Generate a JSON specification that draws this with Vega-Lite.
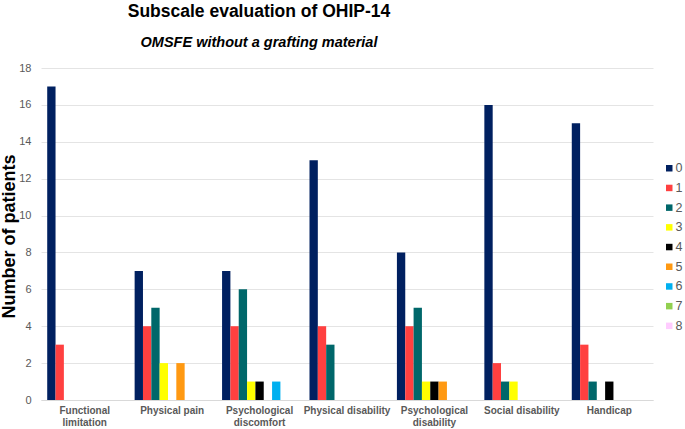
{
  "$schema": "https://vega.github.io/schema/vega-lite/v6.json",
  "width": 612,
  "height": 332,
  "autosize": {"type": "none"},
  "padding": {"left": 41, "top": 68, "right": 32, "bottom": 29},
  "background": "white",
  "title": {
    "text": "Subscale evaluation of OHIP-14",
    "subtitle": "OMSFE without a grafting material",
    "anchor": "middle",
    "frame": "group",
    "dx": -88,
    "offset": 13,
    "font": "Liberation Sans, Arial",
    "fontSize": 17.5,
    "fontWeight": "bold",
    "color": "black",
    "subtitleFont": "Liberation Sans, Arial",
    "subtitleFontSize": 14.5,
    "subtitleFontWeight": "bold",
    "subtitleFontStyle": "italic",
    "subtitleColor": "black",
    "subtitlePadding": 15
  },
  "data": {
    "values": [
      {"subscale": "Functional limitation", "score": "0", "patients": 17},
      {"subscale": "Functional limitation", "score": "1", "patients": 3},
      {"subscale": "Physical pain", "score": "0", "patients": 7},
      {"subscale": "Physical pain", "score": "1", "patients": 4},
      {"subscale": "Physical pain", "score": "2", "patients": 5},
      {"subscale": "Physical pain", "score": "3", "patients": 2},
      {"subscale": "Physical pain", "score": "5", "patients": 2},
      {"subscale": "Psychological discomfort", "score": "0", "patients": 7},
      {"subscale": "Psychological discomfort", "score": "1", "patients": 4},
      {"subscale": "Psychological discomfort", "score": "2", "patients": 6},
      {"subscale": "Psychological discomfort", "score": "3", "patients": 1},
      {"subscale": "Psychological discomfort", "score": "4", "patients": 1},
      {"subscale": "Psychological discomfort", "score": "6", "patients": 1},
      {"subscale": "Physical disability", "score": "0", "patients": 13},
      {"subscale": "Physical disability", "score": "1", "patients": 4},
      {"subscale": "Physical disability", "score": "2", "patients": 3},
      {"subscale": "Psychological disability", "score": "0", "patients": 8},
      {"subscale": "Psychological disability", "score": "1", "patients": 4},
      {"subscale": "Psychological disability", "score": "2", "patients": 5},
      {"subscale": "Psychological disability", "score": "3", "patients": 1},
      {"subscale": "Psychological disability", "score": "4", "patients": 1},
      {"subscale": "Psychological disability", "score": "5", "patients": 1},
      {"subscale": "Social disability", "score": "0", "patients": 16},
      {"subscale": "Social disability", "score": "1", "patients": 2},
      {"subscale": "Social disability", "score": "2", "patients": 1},
      {"subscale": "Social disability", "score": "3", "patients": 1},
      {"subscale": "Handicap", "score": "0", "patients": 15},
      {"subscale": "Handicap", "score": "1", "patients": 3},
      {"subscale": "Handicap", "score": "2", "patients": 1},
      {"subscale": "Handicap", "score": "4", "patients": 1}
    ]
  },
  "mark": {"type": "bar"},
  "encoding": {
    "x": {
      "field": "subscale",
      "type": "nominal",
      "sort": ["Functional limitation", "Physical pain", "Psychological discomfort", "Physical disability", "Psychological disability", "Social disability", "Handicap"],
      "scale": {"paddingInner": 0.142, "paddingOuter": 0.071},
      "axis": {
        "title": null,
        "labelAngle": 0,
        "labelFont": "Liberation Sans, Arial",
        "labelFontSize": 10,
        "labelFontWeight": "bold",
        "labelColor": "#595959",
        "labelPadding": 5,
        "labelLineHeight": 12,
        "labelExpr": "indexof(['Functional limitation','Psychological discomfort','Psychological disability'], datum.label) >= 0 ? split(datum.label, ' ') : datum.label",
        "ticks": false,
        "domainColor": "#d9d9d9",
        "domainWidth": 1,
        "grid": false
      }
    },
    "xOffset": {
      "field": "score",
      "type": "nominal",
      "scale": {"domain": ["0", "1", "2", "3", "4", "5", "6", "7", "8"], "paddingInner": 0, "paddingOuter": 0}
    },
    "y": {
      "field": "patients",
      "type": "quantitative",
      "scale": {"domain": [0, 18]},
      "axis": {
        "title": "Number of patients",
        "titleFont": "Liberation Sans, Arial",
        "titleFontSize": 18,
        "titleFontWeight": "bold",
        "titleColor": "black",
        "titleX": -23,
        "titleY": 168,
        "values": [0, 2, 4, 6, 8, 10, 12, 14, 16, 18],
        "labelFont": "Liberation Sans, Arial",
        "labelFontSize": 11,
        "labelColor": "#595959",
        "labelPadding": 10,
        "ticks": false,
        "domain": false,
        "gridColor": "#e4e4e4",
        "gridWidth": 1
      }
    },
    "color": {
      "field": "score",
      "type": "nominal",
      "scale": {
        "domain": ["0", "1", "2", "3", "4", "5", "6", "7", "8"],
        "range": ["#002060", "#FF4040", "#00676A", "#FFFF00", "#000000", "#FF9912", "#00B0F0", "#92D050", "#FFCCFF"]
      },
      "legend": {
        "title": null,
        "orient": "none",
        "legendX": 622,
        "legendY": 94,
        "padding": 0,
        "symbolType": "square",
        "symbolSize": 42,
        "symbolStrokeWidth": 0,
        "labelFont": "Liberation Sans, Arial",
        "labelFontSize": 12.5,
        "labelColor": "#595959",
        "labelOffset": 0,
        "rowPadding": 6.7
      }
    }
  },
  "config": {"view": {"stroke": null}}
}
